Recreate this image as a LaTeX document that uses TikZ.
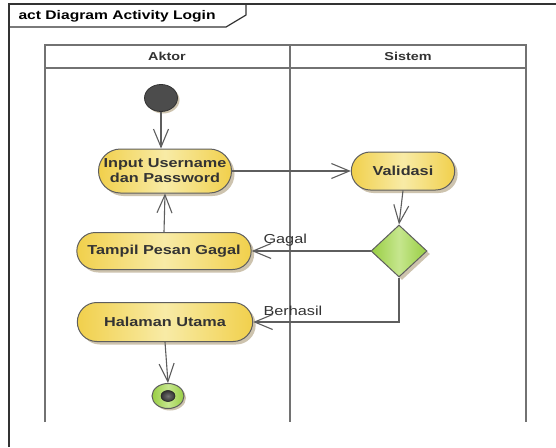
\documentclass[tikz,border=0pt]{standalone}
\usepackage{fontspec}
\setmainfont{Liberation Sans}[FakeStretch=1.25]
\usetikzlibrary{arrows.meta,shapes.misc,shapes.geometric,shadows}
\definecolor{frameC}{HTML}{333333}
\definecolor{laneC}{HTML}{727272}
\definecolor{lineC}{HTML}{5E5E5E}
\definecolor{textC}{HTML}{333333}
\definecolor{yelEdge}{HTML}{F1D04C}
\definecolor{yelMid}{HTML}{F8EBA6}
\definecolor{grnEdge}{HTML}{98CE42}
\definecolor{grnMid}{HTML}{C6E68E}
\definecolor{shadowC}{HTML}{CDC3AE}
\tikzset{
  flow/.style={draw=lineC, line width=1.1pt, -{Straight Barb[length=18pt,width=15pt,line width=1.1pt]}},
  actbox/.style={rounded rectangle, draw=lineC, line width=1pt,
    left color=yelEdge, right color=yelEdge, middle color=yelMid,
    text=textC, font=\fontsize{13}{15}\selectfont\bfseries, align=center,
    drop shadow={shadow xshift=3pt, shadow yshift=-3pt, fill=shadowC, opacity=1}},
  decbox/.style={diamond, draw=lineC, line width=1pt, inner sep=0pt,
    minimum width=56pt, minimum height=52pt,
    left color=grnEdge, right color=grnEdge, middle color=grnMid,
    drop shadow={shadow xshift=3pt, shadow yshift=-3pt, fill=shadowC, opacity=1}},
  lanehead/.style={text=textC, font=\fontsize{11.5}{13}\selectfont\bfseries},
  guard/.style={text=textC, font=\fontsize{13}{15}\selectfont, anchor=west}
}
\begin{document}
\begin{tikzpicture}[x=1pt,y=-1pt]
\useasboundingbox (0,0) rectangle (556,447);
\fill[white] (0,0) rectangle (556,447);

% diagram frame and title tab
\draw[frameC, line width=1.2pt] (9,447) -- (9,4) -- (556,4);
\draw[frameC, line width=1.2pt] (9,27) -- (226,27) -- (246,15) -- (246,4);
\node[anchor=west, text=black, font=\fontsize{12.5}{14}\selectfont\bfseries] (title) at (15,16) {act Diagram Activity Login};

% swimlanes
\draw[laneC, line width=2.2pt] (45,422) -- (45,45) -- (526,45) -- (526,422);
\draw[laneC, line width=2.2pt] (45,68) -- (526,68);
\draw[laneC, line width=2.2pt] (290,45) -- (290,422);
\node[lanehead] (aktor) at (167,56) {Aktor};
\node[lanehead] (sistem) at (408,56) {Sistem};

% initial node
\node[ellipse, draw=black!80, line width=0.8pt, fill=black!70, minimum width=33pt, minimum height=27pt, inner sep=0pt,
  drop shadow={shadow xshift=2pt, shadow yshift=-2pt, fill=shadowC, opacity=1}] (start) at (161,98) {};

% activities
\node[actbox, minimum width=137pt, minimum height=44pt, inner sep=2pt] (input) at (165,171) {Input Username\\dan Password};
\node[actbox, minimum width=110pt, minimum height=38pt] (valid) at (403,171) {Validasi};
\node[decbox] (dec) at (399,251) {};
\node[actbox, minimum width=181pt, minimum height=37pt] (gagal) at (164,251) {Tampil Pesan Gagal};
\node[actbox, minimum width=182pt, minimum height=39pt] (utama) at (165,322) {Halaman Utama};

% final node
\node[ellipse, draw=lineC, line width=1pt, left color=grnEdge, right color=grnEdge, middle color=grnMid,
  minimum width=32pt, minimum height=25pt, inner sep=0pt,
  drop shadow={shadow xshift=2pt, shadow yshift=-2pt, fill=shadowC, opacity=1}] (end) at (168,396) {};
\node[ellipse, draw=black!85, line width=0.6pt, inner color=black!55, outer color=black!80,
  minimum width=14pt, minimum height=11pt, inner sep=0pt] (endcore) at (168,396) {};

% control flows
\draw[flow] (start) -- (start |- input.north);
\draw[flow] (input.east) -- (valid.west);
\draw[flow] (valid.south) -- (dec.north);
\draw[flow] (dec.west) -- (gagal.east);
\draw[flow] (gagal.north) -- (input.south);
\draw[flow] (dec.south) |- (utama.east);
\draw[flow] (utama.south) -- (end.north);

% guards
\node[guard] (gGagal) at (260,240) {Gagal};
\node[guard] (gBerhasil) at (260,311) {Berhasil};
\end{tikzpicture}
\end{document}
